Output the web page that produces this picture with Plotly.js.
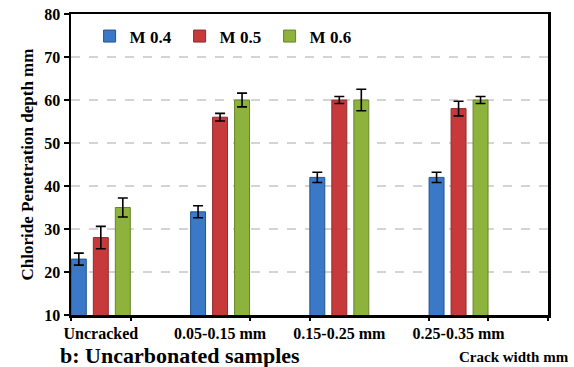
<!DOCTYPE html>
<html>
<head>
<meta charset="utf-8">
<script src="https://cdn.plot.ly/plotly-3.0.1.min.js"></script>
<style>html,body{margin:0;padding:0;background:#fff;}#chart{width:574px;height:367px;}</style>
</head>
<body>
<div id="chart"></div>
<script>
var categories = ["Uncracked", "0.05-0.15 mm", "0.15-0.25 mm", "0.25-0.35 mm"];
var seriesNames = ["M 0.4", "M 0.5", "M 0.6"];
var m04 = [23, 34, 42, 42];
var m05 = [28, 56, 60, 58];
var m06 = [35, 60, 60, 60];
var m04err = [1.4, 1.4, 1.2, 1.2];
var m05err = [2.6, 0.9, 0.8, 1.7];
var m06err = [2.2, 1.6, 2.5, 0.8];
var yTicks = [10, 20, 30, 40, 50, 60, 70, 80];
var boundaryTicks = [-0.25, 0.25, 1.25, 1.75, 2.75, 3.25, 3.75];

var colors = ["#3b78c6", "#c73a3b", "#8db33c"];
var edges = ["#24548f", "#922a2a", "#66842a"];
var vals = [m04, m05, m06];
var errs = [m04err, m05err, m06err];
var F = "Liberation Serif";

var data = [];
for (var i = 0; i < 3; i++) {
  data.push({
    type: "bar",
    name: "<b>" + seriesNames[i] + "</b>",
    x: categories,
    y: vals[i],
    marker: {color: colors[i], line: {color: edges[i], width: 1}},
    error_y: {type: "data", array: errs[i], visible: true, color: "#000", thickness: 1.6, width: 5}
  });
}
data.push({
  type: "scatter", mode: "markers", x: [boundaryTicks[0]], y: [10],
  xaxis: "x2", yaxis: "y", marker: {opacity: 0, size: 1},
  showlegend: false, hoverinfo: "skip"
});

var layout = {
  width: 574, height: 367,
  margin: {l: 71, r: 26, t: 14, b: 52},
  paper_bgcolor: "#fff", plot_bgcolor: "#fff",
  font: {family: F, color: "#000"},
  barmode: "group", bargap: 0.4465, bargroupgap: 0.32,
  showlegend: true,
  legend: {orientation: "h", x: 0.039, y: 0.985, xanchor: "left", yanchor: "top",
    font: {family: F, size: 17, color: "#000"}, itemwidth: 30, entrywidth: 45,
    bgcolor: "rgba(0,0,0,0)"},
  xaxis: {type: "category", range: [-0.25, 3.75], showline: true, linecolor: "#000", linewidth: 2.5,
    mirror: true, ticks: "", showgrid: false, zeroline: false,
    tickfont: {family: F, size: 16, color: "#000"}, ticklabelstandoff: 2, fixedrange: true,
    tickmode: "array", tickvals: categories, ticktext: categories.map(function (c) { return "<b>" + c + "</b>"; })},
  xaxis2: {overlaying: "x", anchor: "y", range: [-0.25, 3.75], tickmode: "array", tickvals: boundaryTicks,
    showticklabels: false, ticks: "outside", ticklen: 5, tickwidth: 2, tickcolor: "#000",
    showgrid: false, zeroline: false, showline: false, side: "bottom"},
  yaxis: {range: [10, 80], showline: true, linecolor: "#000", linewidth: 2.5, mirror: true,
    tickmode: "array", tickvals: yTicks,
    ticktext: yTicks.map(function (v) { return "<b>" + v + "</b>"; }),
    ticks: "outside", ticklen: 5, tickwidth: 2, tickcolor: "#000",
    showgrid: true, gridcolor: "#d4d4d4", gridwidth: 1.5, griddash: "dash", zeroline: false,
    tickfont: {family: F, size: 16, color: "#000"},
    title: {text: "<b>Chloride Penetration depth mm</b>", font: {family: F, size: 17, color: "#000"}, standoff: 7}},
  annotations: [
    {text: "<b>b: Uncarbonated samples</b>", xref: "paper", yref: "paper", x: -0.027, y: -0.133,
     xanchor: "left", yanchor: "middle", showarrow: false, font: {family: F, size: 22, color: "#000"}},
    {text: "<b>Crack width mm</b>", xref: "paper", yref: "paper", x: 1.048, y: -0.14,
     xanchor: "right", yanchor: "middle", showarrow: false, font: {family: F, size: 15, color: "#000"}}
  ]
};

Plotly.newPlot("chart", data, layout, {displayModeBar: false, staticPlot: true});
</script>
</body>
</html>
